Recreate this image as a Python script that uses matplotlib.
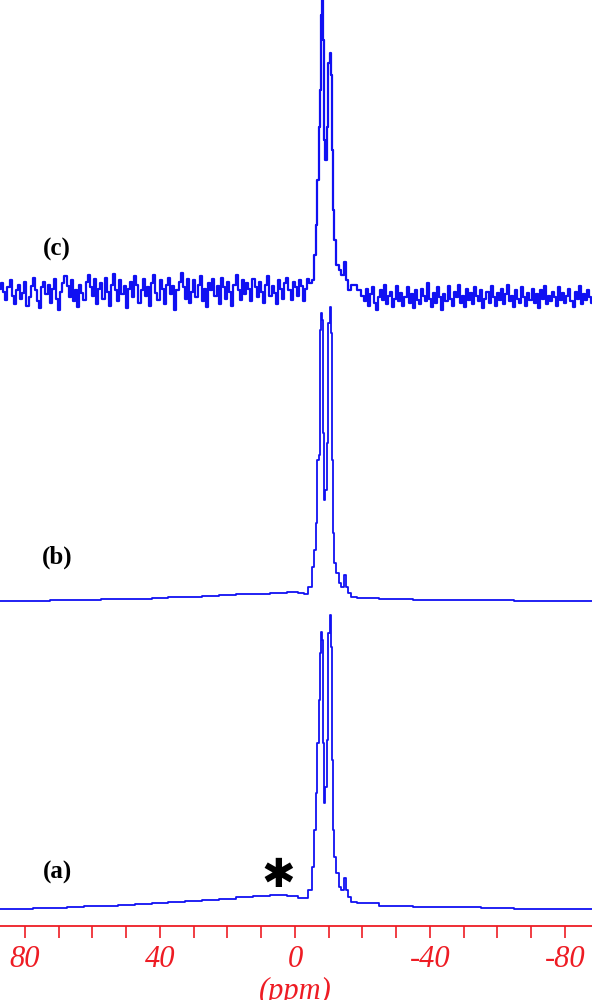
import numpy as np
import matplotlib
matplotlib.use("Agg")
import matplotlib.pyplot as plt
from matplotlib.ticker import MultipleLocator

# ---- data (intensity above each trace's baseline) ----
# shared ppm grid across the main doublet
peak_ppm = [-4.4, -5.4, -5.9, -6.4, -6.9, -7.2, -7.4, -7.8, -8.1, -8.4, -8.8, -9.2, -9.7,
            -10.1, -10.4, -10.7, -11.0, -11.4, -11.9, -12.5, -13.3, -14.1, -14.8, -15.3,
            -16.1, -17.3, -19.3]

# (c) noisy spectrum
c_left = [4, 10, 1, -7, 6, 13, -3, -11, 3, 8, -6, 0, 11, -13, -4, 7, 15, 3, -8, -15,
          6, 11, -1, 8, -10, 4, 14, -6, -17, 1, 10, 17, 7, -4, 13, -8, 3, -14, 8, 0,
          -7, 11, 18, 6, -3, 14, -11, 4, 10, -6, 15, 1, -13, 8, 19, 3, -8, 13, -1, 7,
          -15, 4, 11, -4, 17, 8, -10, 3, 14, -3, 6, -13, 10, 18, 0, -7, 13, 4, -11, 8,
          15, -1, 7, -17, 3, 11, 20, 6, -6, 14, -10, 1, 13, -4, 8, 17, -8, 4, -14, 10,
          3, 14, -3, 7, -11, 15, 6, -6, 11, 1, -13, 8, 18, 3, -7, 13, -1, 10, 4, -8,
          14, 6, -4, 11, 1, -10, 8, 17, -3, 7, 0, -11, 13, 4, -6, 10, 15, 3, -7, 11,
          6, -3, 13, 7, -8, 4, 14]
c_peak = [10, 13, 38, 68, 113, 166, 203, 278, 296, 253, 153, 133, 166, 230, 240, 218,
          143, 83, 53, 28, 23, 18, 31, 13, 3, 8, 3]
c_right = [-3, -8, 4, -13, -1, 6, -10, -17, -4, 3, -7, 8, -11, -3, 1, -14, -6, 7, -8, 0,
           -13, -4, 6, -10, -1, -15, 3, -7, -11, 4, -3, -8, 10, -6, -14, 0, -10, 6, -4, -17,
           -1, -8, 7, -6, -13, 1, -4, 8, -10, -3, -14, 4, -7, 0, -11, 6, -3, -8, 3, -15,
           -6, 1, -10, 7, -4, -13, 0, -7, 4, -11, -1, 8, -8, -3, -14, 3, -6, -10, 6, -4,
           -13, 0, -7, 4, -10, -1, -15, 3, -6, 7, -11, -3, -8, 1, -4, -13, 6, -7, 0, -10,
           -3, 4, -8, -14, 1, -6, 7, -11, -1, -7, 3, -4, -10]

# (b) and (a) smooth spectra
base_left_ppm = [87.4, 80, 75, 70, 65, 60, 55, 50, 45, 40, 35, 30, 25, 20, 15, 10, 5, 0, -2, -3.5]
base_right_ppm = [-20, -30, -40, -50, -60, -70, -80, -88]

b_left = [-1, -1, -0.5, 0, 0, 0.5, 1, 1.5, 1.5, 2.5, 3, 3.5, 4, 5, 6, 6.5, 7, 8, 7, 6]
b_peak = [13, 33, 50, 77, 140, 145, 270, 287, 280, 167, 100, 110, 157, 277, 293, 267,
          140, 67, 37, 27, 17, 13, 25, 13, 7, 3, 2]
b_right = [2, 1, 0.5, 0, 0, -0.5, -0.5, -1]

a_left = [-4, -3.5, -3, -2.5, -2, -1, -0.5, 0, 1, 2, 3, 4, 5, 6.5, 8, 9, 10, 9.5, 7.5, 7]
a_peak = [15, 38, 75, 112, 162, 205, 252, 273, 265, 162, 102, 118, 165, 272, 290, 258,
          145, 75, 48, 32, 18, 15, 27, 15, 8, 3, 2]
a_right = [2, -1, -1.5, -2, -3, -3.5, -4, -4]

tick_labels = ["80", "40", "0", "-40", "-80"]

# ---- figure ----
W, H = 592, 1000
fig = plt.figure(figsize=(W / 100, H / 100), dpi=100)
axis_px = 925.7
ax = fig.add_axes([0, 1 - axis_px / H, 1, axis_px / H])

blue = "#1010f2"
red = "#ee1c24"

c_ppm = np.concatenate([np.linspace(87.4, -4, len(c_left)), peak_ppm,
                        np.linspace(-20, -88, len(c_right))])
c_int = np.concatenate([c_left, c_peak, c_right])
b_ppm = np.concatenate([base_left_ppm, peak_ppm, base_right_ppm])
b_int = np.concatenate([b_left, b_peak, b_right])
a_int = np.concatenate([a_left, a_peak, a_right])

# vertical offsets of the stacked traces
off_c, off_b, off_a = axis_px - 293, axis_px - 600, axis_px - 905
ax.plot(c_ppm, c_int + off_c, color=blue, lw=1.6, drawstyle="steps-mid")
ax.plot(b_ppm, b_int + off_b, color=blue, lw=1.3, drawstyle="steps-mid")
ax.plot(b_ppm, a_int + off_a, color=blue, lw=1.3, drawstyle="steps-mid")

ax.set_xlim(87.4, -88.0)
ax.set_ylim(0, axis_px)

for s in ["top", "left", "right"]:
    ax.spines[s].set_visible(False)
ax.spines["bottom"].set_color(red)
ax.spines["bottom"].set_linewidth(1.3)
ax.set_yticks([])

ax.xaxis.set_minor_locator(MultipleLocator(10))
ax.set_xticks([80, 40, 0, -40, -80])
ax.set_xticklabels(tick_labels)
ax.tick_params(axis="x", which="both", direction="out", length=8.6, width=1.2,
               color=red, labelcolor=red, pad=5)
for lab in ax.get_xticklabels():
    lab.set_fontfamily("Liberation Serif")
    lab.set_fontstyle("italic")
    lab.set_fontsize(22)

fig.text(295 / W, 1 - 977 / H, "(ppm)", color=red, fontsize=22, family="Liberation Serif",
         style="italic", ha="center", va="top")

for lab, ypx in [("(c)", 249), ("(b)", 557), ("(a)", 872)]:
    fig.text(57 / W, 1 - ypx / H, lab, fontsize=18, family="Liberation Serif",
             weight="bold", ha="center", va="center")

fig.text(278 / W, 1 - 876 / H, "\u2731", fontsize=29, family="DejaVu Sans",
         ha="center", va="center")

fig.savefig("out.png", dpi=100)
